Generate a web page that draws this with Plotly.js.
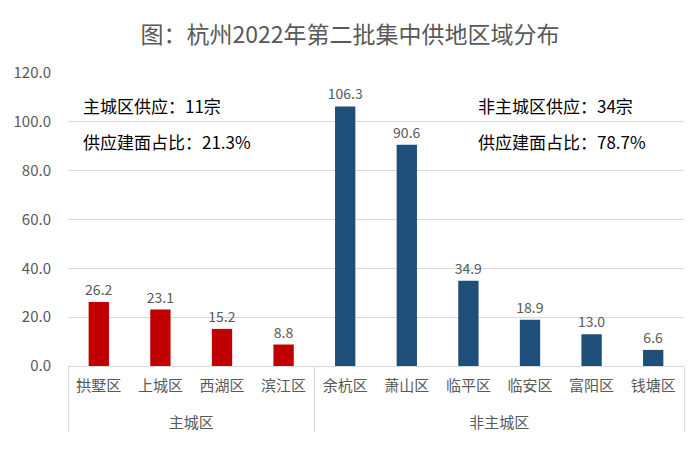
<!DOCTYPE html>
<html><head><meta charset="utf-8">
<script src="https://cdn.plot.ly/plotly-3.0.1.min.js"></script>
<style>html,body{margin:0;padding:0;background:#fff}#c{width:700px;height:449px}</style>
</head><body><div id="c"></div>
<script>
const groups = ["主城区","主城区","主城区","主城区","非主城区","非主城区","非主城区","非主城区","非主城区","非主城区"];
const districts = ["拱墅区","上城区","西湖区","滨江区","余杭区","萧山区","临平区","临安区","富阳区","钱塘区"];
const values = [26.2,23.1,15.2,8.8,106.3,90.6,34.9,18.9,13.0,6.6];
const barColors = ["#C00000","#C00000","#C00000","#C00000","#1F4E79","#1F4E79","#1F4E79","#1F4E79","#1F4E79","#1F4E79"];
const titleText = "图：杭州2022年第二批集中供地区域分布";
const noteLeft = ["主城区供应：11宗","供应建面占比：21.3%"];
const noteRight = ["非主城区供应：34宗","供应建面占比：78.7%"];
const font = '"Noto Sans CJK SC", "Noto Sans", sans-serif';
const grey = '#595959';

Plotly.newPlot('c', [{
  type: 'bar',
  x: [groups.map(g => '&nbsp;<br>' + g), districts],
  y: values,
  marker: {color: barColors},
  text: values.map(v => v.toFixed(1)),
  textposition: 'outside',
  constraintext: 'none',
  cliponaxis: false,
  textfont: {family: font, size: 14, color: grey},
  hoverinfo: 'none'
}], {
  width: 700, height: 449,
  margin: {l: 68, r: 16, t: 73, b: 83},
  paper_bgcolor: '#fff', plot_bgcolor: '#fff',
  bargap: 0.67,
  uniformtext: {mode: false},
  showlegend: false,
  title: {text: titleText, x: 0.5, xanchor: 'center', y: 0.922, yanchor: 'middle',
          font: {family: font, size: 23, color: grey}},
  font: {family: font, color: grey},
  xaxis: {
    type: 'multicategory',
    showdividers: true, dividercolor: '#D9D9D9', dividerwidth: 1,
    tickfont: {family: font, size: 15, color: grey},
    showline: true, linecolor: '#D9D9D9', linewidth: 1,
    ticks: '', showgrid: false,
    ticklabelstandoff: 6
  },
  yaxis: {
    range: [0, 120], dtick: 20, tickformat: '.1f',
    showgrid: true, gridcolor: '#D9D9D9', gridwidth: 1,
    zeroline: false, showline: false, ticks: '',
    tickfont: {family: font, size: 15, color: grey},
    ticklabelstandoff: 16
  },
  annotations: [
    {text: noteLeft[0], xref: 'paper', yref: 'paper', x: 0.021, y: 0.89, xanchor: 'left', yanchor: 'middle', showarrow: false, font: {family: font, size: 17, color: '#000'}},
    {text: noteLeft[1], xref: 'paper', yref: 'paper', x: 0.021, y: 0.765, xanchor: 'left', yanchor: 'middle', showarrow: false, font: {family: font, size: 17, color: '#000'}},
    {text: noteRight[0], xref: 'paper', yref: 'paper', x: 0.662, y: 0.89, xanchor: 'left', yanchor: 'middle', showarrow: false, font: {family: font, size: 17, color: '#000'}},
    {text: noteRight[1], xref: 'paper', yref: 'paper', x: 0.662, y: 0.765, xanchor: 'left', yanchor: 'middle', showarrow: false, font: {family: font, size: 17, color: '#000'}}
  ]
}, {displayModeBar: false, staticPlot: true});
</script></body></html>
